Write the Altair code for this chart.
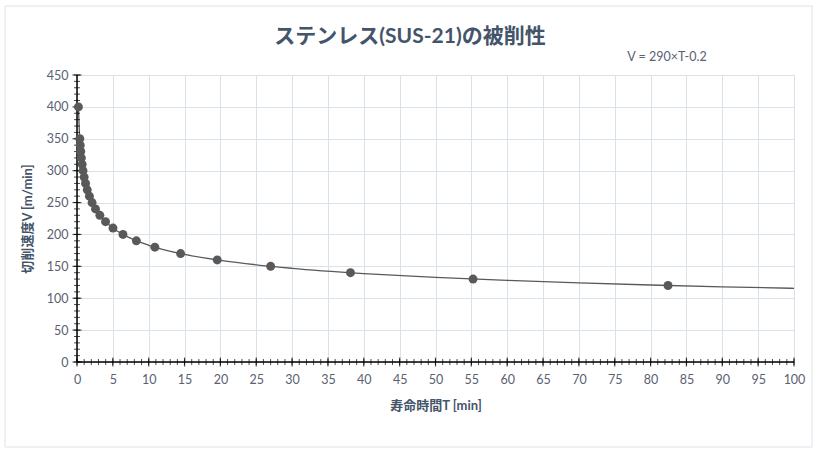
import altair as alt
import pandas as pd

# Measured points (cutting speed V vs. tool life T)
pt_V = [400, 350, 340, 330, 320, 310, 300, 290, 280, 270, 260, 250, 240, 230,
        220, 210, 200, 190, 180, 170, 160, 150, 140, 130, 120]
pt_T = [0.20, 0.39, 0.45, 0.52, 0.61, 0.72, 0.84, 1.00, 1.19, 1.43, 1.73, 2.10,
        2.58, 3.19, 3.98, 5.02, 6.41, 8.28, 10.86, 14.45, 19.56, 27.01, 38.14,
        55.24, 82.43]

# Trend curve (V = 290 x T^-0.2)
cv_T = [0.2, 0.3, 0.4, 0.6, 0.8, 1, 1.5, 2, 3, 4, 5, 7, 10, 15, 20, 30, 40,
        50, 60, 70, 80, 90, 100]
cv_V = [400.0, 369.0, 348.3, 321.2, 303.2, 290.0, 267.4, 252.5, 232.8, 219.8,
        210.2, 196.5, 183.0, 168.7, 159.3, 146.9, 138.7, 132.6, 127.9, 124.0,
        120.7, 117.9, 115.5]

# Axis tick positions
x_major = [0, 5, 10, 15, 20, 25, 30, 35, 40, 45, 50, 55, 60, 65, 70, 75, 80,
           85, 90, 95, 100]
x_minor = list(range(0, 101))
y_major = [0, 50, 100, 150, 200, 250, 300, 350, 400, 450]
y_minor = list(range(0, 451, 10))

title_text = "ステンレス(SUS-21)の被削性"
eq_text = "V = 290×T-0.2"
x_title = "寿命時間T [min]"
y_title = "切削速度V [m/min]"

FONT = "Lato, 'Noto Sans CJK JP', sans-serif"
TXT = "#44546a"
LBL = "#5a6170"
DARK = "#595959"

W, H = 717, 287

xs = alt.Scale(domain=[0, 100], nice=False, zero=False)
ys = alt.Scale(domain=[0, 450], nice=False)

pts = pd.DataFrame({"T": pt_T, "V": pt_V})
cv = pd.DataFrame({"T": cv_T, "V": cv_V})

axis_x = alt.Axis(values=x_major, grid=True, gridColor="#d9e1ea", gridWidth=1,
                  ticks=False, domain=False, labelFont=FONT, labelFontSize=12.5,
                  labelColor=LBL, labelPadding=11, labelOverlap=False, labelFlush=False,
                  title=x_title, titleFont=FONT, titleFontSize=13, titleFontWeight="bold",
                  titleColor=TXT, titlePadding=14)
axis_y = alt.Axis(values=y_major, grid=True, gridColor="#d9e1ea", gridWidth=1,
                  ticks=False, domain=False, labelFont=FONT, labelFontSize=12.5,
                  labelColor=LBL, labelPadding=9, labelOverlap=False, labelFlush=False,
                  title=y_title, titleFont=FONT, titleFontSize=13, titleFontWeight="bold",
                  titleColor=TXT, titlePadding=12)


def X(f):
    return alt.X(f, type="quantitative", scale=xs, axis=axis_x)


def Y(f):
    return alt.Y(f, type="quantitative", scale=ys, axis=axis_y)


curve = alt.Chart(cv).mark_line(color=DARK, strokeWidth=1.3, interpolate="monotone").encode(
    x=X("T"), y=Y("V"))

points = alt.Chart(pts).mark_circle(color=DARK, size=80, opacity=1).encode(
    x=X("T"), y=Y("V"))

# axis lines
xdom = alt.Chart(pd.DataFrame({"a": [0]})).mark_rule(color="black", strokeWidth=1.5).encode(
    x=alt.value(0), x2=alt.value(W), y=Y("a"))
ydom = alt.Chart(pd.DataFrame({"a": [0]})).mark_rule(color="black", strokeWidth=1.5).encode(
    y=alt.value(0), y2=alt.value(H), x=X("a"))

xt_min = alt.Chart(pd.DataFrame({"t": x_minor, "z": [0] * len(x_minor)})).mark_tick(
    orient="vertical", color="black", size=6, thickness=1).encode(x=X("t"), y=Y("z"))
xt_maj = alt.Chart(pd.DataFrame({"t": x_major, "z": [0] * len(x_major)})).mark_tick(
    orient="vertical", color="black", size=9, thickness=1.2).encode(x=X("t"), y=Y("z"))
yt_min = alt.Chart(pd.DataFrame({"t": y_minor, "z": [0] * len(y_minor)})).mark_tick(
    orient="horizontal", color="black", size=6, thickness=1).encode(y=Y("t"), x=X("z"))
yt_maj = alt.Chart(pd.DataFrame({"t": y_major, "z": [0] * len(y_major)})).mark_tick(
    orient="horizontal", color="black", size=9, thickness=1.2).encode(y=Y("t"), x=X("z"))

title = alt.Chart(pd.DataFrame({"s": [title_text]})).mark_text(
    font=FONT, fontSize=21, fontWeight="bold", color=TXT, align="center", baseline="middle").encode(
    text="s:N", x=alt.value(333), y=alt.value(-38))
eq = alt.Chart(pd.DataFrame({"s": [eq_text]})).mark_text(
    font=FONT, fontSize=12.5, color=LBL, align="center", baseline="middle").encode(
    text="s:N", x=alt.value(590), y=alt.value(-18))

border = alt.Chart(pd.DataFrame({"a": [0]})).mark_rect(
    fill=None, stroke="#dde3ea", strokeWidth=1).encode(
    x=alt.value(-72), x2=alt.value(735), y=alt.value(-69), y2=alt.value(372))

chart = alt.layer(curve, border, xdom, ydom, xt_min, xt_maj, yt_min, yt_maj,
                  points, title, eq).properties(
    width=W, height=H,
    autosize=alt.AutoSizeParams(type="none"),
    padding={"left": 77, "top": 75, "right": 26, "bottom": 91},
).configure_view(stroke=None).configure(background="white")

chart.save("out.html", embed_options={"renderer": "svg", "actions": False})
